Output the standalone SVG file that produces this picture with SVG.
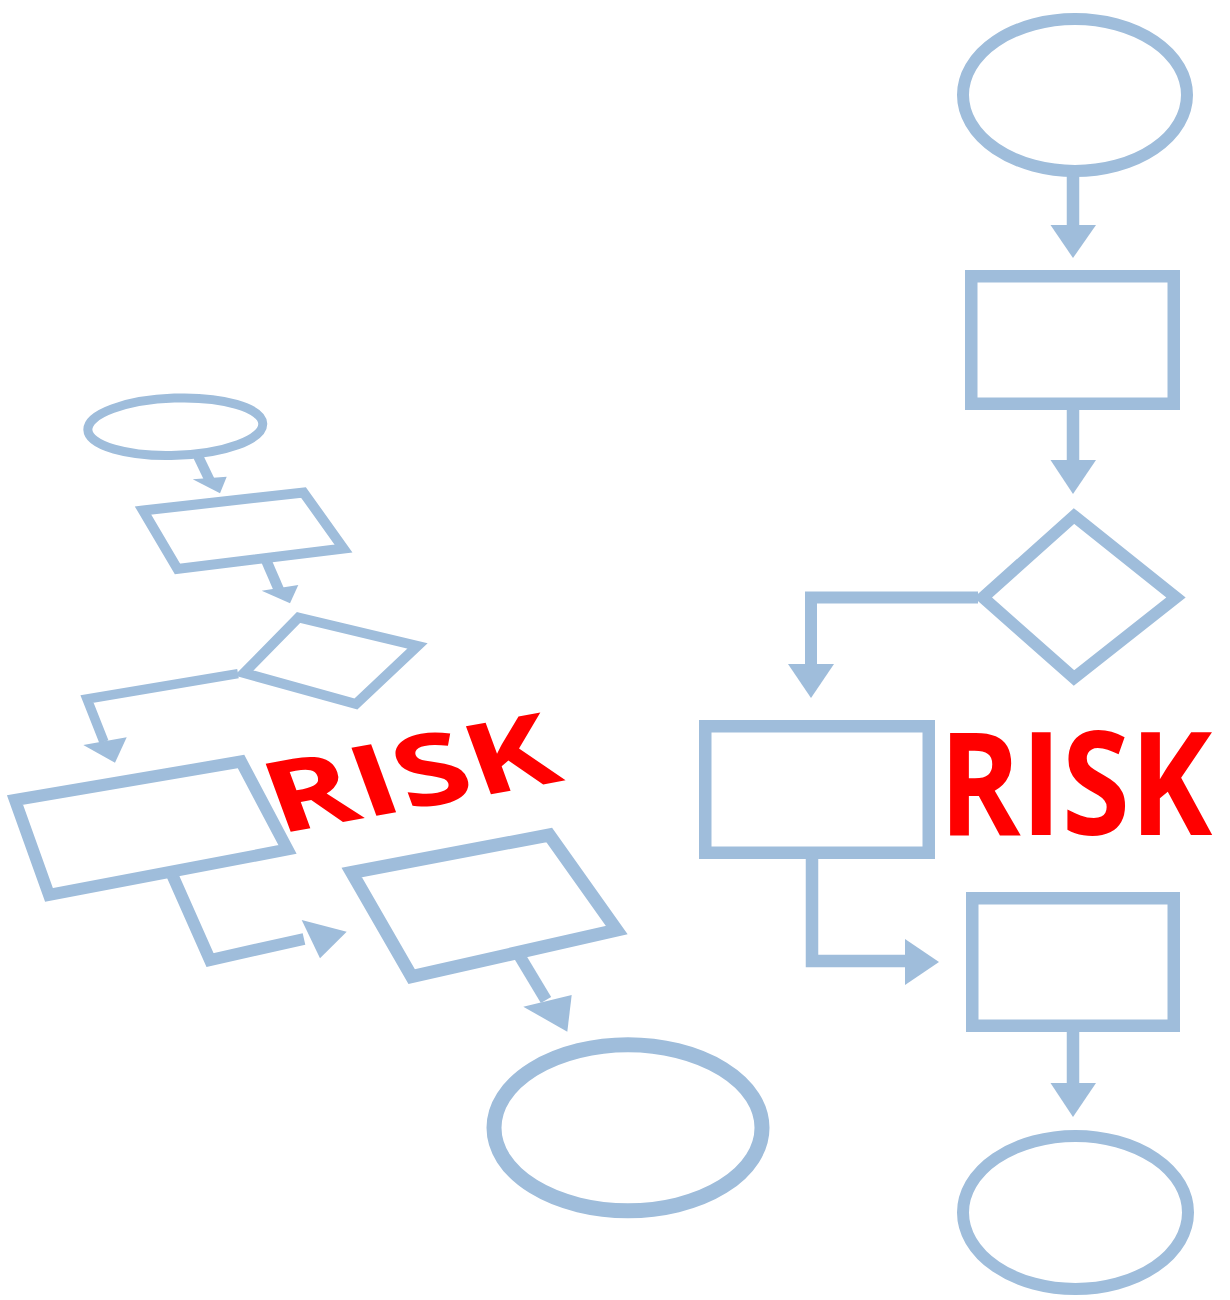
<svg xmlns="http://www.w3.org/2000/svg" width="1230" height="1300" viewBox="0 0 1230 1300">
<style>
.sh{fill:none;stroke:#9FBDDB;stroke-linejoin:miter;stroke-miterlimit:10}
.ln{fill:none;stroke:#9FBDDB;stroke-linejoin:miter;stroke-miterlimit:10;stroke-linecap:butt}
.hd{fill:#9FBDDB;stroke:none}
.risk{fill:#FF0000;font-family:"Open Sans","Liberation Sans",sans-serif;font-weight:bold}
</style>
<rect x="0" y="0" width="1230" height="1300" fill="#FFFFFF"/>

<g id="connectors">
  <!-- left chart -->
  <line class="ln" x1="198" y1="456" x2="210" y2="481" stroke-width="10"/>
  <polygon class="hd" points="192.7,479.3 226.7,476.7 220,493.3"/>
  <line class="ln" x1="266" y1="560" x2="279" y2="590" stroke-width="10.5"/>
  <polygon class="hd" points="261.7,590.7 298.3,585 290,603.3"/>
  <polyline class="ln" points="238,673.6 87,699 104,742" stroke-width="9.5"/>
  <polygon class="hd" points="83.3,745 126.7,737.3 115,762.7"/>
  <polyline class="ln" points="171,872 210,960 304,939" stroke-width="12"/>
  <polygon class="hd" points="301.7,920 320,958.3 346.7,931.7"/>
  <line class="ln" x1="519" y1="955" x2="546" y2="1000" stroke-width="12"/>
  <polygon class="hd" points="523.3,1006.7 571.7,995 567.3,1031.7"/>
  <!-- right chart -->
  <line class="ln" x1="1073" y1="170" x2="1073" y2="226" stroke-width="12.5"/>
  <polygon class="hd" points="1050.5,225 1096,225 1073,258"/>
  <line class="ln" x1="1073" y1="404" x2="1073" y2="461" stroke-width="12.5"/>
  <polygon class="hd" points="1050.5,460 1096,460 1073,494"/>
  <polyline class="ln" points="978,597.5 811,597.5 811,665" stroke-width="12"/>
  <polygon class="hd" points="788,664 834,664 811,698"/>
  <polyline class="ln" points="812,853 812,961 906,961" stroke-width="12.5"/>
  <polygon class="hd" points="905,939 905,985 939,962"/>
  <line class="ln" x1="1073" y1="1026" x2="1073" y2="1084" stroke-width="12.5"/>
  <polygon class="hd" points="1050.5,1083 1096,1083 1073,1117"/>
</g>

<g id="left-start">
  <ellipse class="sh" cx="175.3" cy="426.7" rx="87.5" ry="28.6" stroke-width="9" transform="rotate(-2 175.3 426.7)"/>
</g>
<g id="left-process-1">
  <polygon class="sh" points="143,510.5 303.5,492.5 343.5,548.5 177.5,569" stroke-width="10"/>
</g>
<g id="left-decision">
  <polygon class="sh" points="298.5,617.5 417.5,646 356,704 244,673" stroke-width="10"/>
</g>
<g id="left-process-2">
  <polygon class="sh" points="15,800 241,761.5 287.5,849.5 49,895" stroke-width="12"/>
</g>
<g id="left-process-3">
  <polygon class="sh" points="351.7,872.5 549.2,835 616.7,930 411.7,976.7" stroke-width="13"/>
</g>
<g id="left-end">
  <ellipse class="sh" cx="628" cy="1127.8" rx="134" ry="83" stroke-width="15"/>
</g>
<g id="left-risk">
  <text class="risk" x="0" y="0" font-size="100" textLength="204" lengthAdjust="spacingAndGlyphs" transform="matrix(1.405 -0.263 0.35 0.952 279 834)">RISK</text>
</g>

<g id="right-start">
  <ellipse class="sh" cx="1075" cy="95" rx="112" ry="76" stroke-width="12"/>
</g>
<g id="right-process-1">
  <rect class="sh" x="971.25" y="276.25" width="202.5" height="127.5" stroke-width="12.5"/>
</g>
<g id="right-decision">
  <polygon class="sh" points="1074,516 1176,597.5 1074,678 983,597.5" stroke-width="12"/>
</g>
<g id="right-process-2">
  <rect class="sh" x="705.25" y="726.25" width="223.5" height="126.5" stroke-width="12.5"/>
</g>
<g id="right-process-3">
  <rect class="sh" x="972.25" y="898.25" width="201.5" height="127.5" stroke-width="12.5"/>
</g>
<g id="right-end">
  <ellipse class="sh" cx="1075.5" cy="1212.5" rx="112.5" ry="76.5" stroke-width="12"/>
</g>
<g id="right-risk">
  <text class="risk" x="0" y="0" font-size="144" transform="translate(939 835) scale(0.86 1)">RISK</text>
</g>
</svg>
